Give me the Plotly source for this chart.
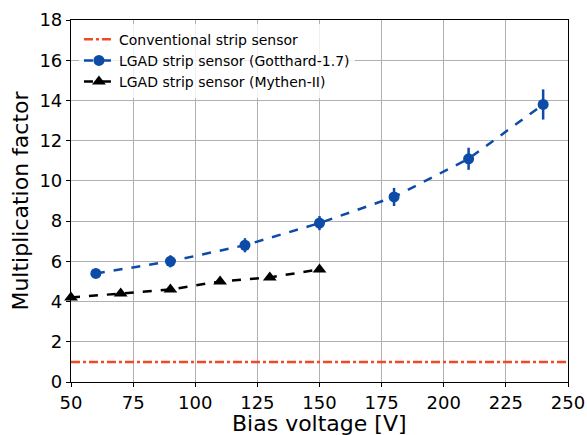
import plotly.graph_objects as go

gott_v = [60, 90, 120, 150, 180, 210, 240]
gott_m = [5.4, 6.0, 6.8, 7.9, 9.2, 11.1, 13.8]
gott_e = [0.2, 0.3, 0.35, 0.35, 0.45, 0.55, 0.75]

myth_v = [50, 70, 90, 110, 130, 150]
myth_m = [4.2, 4.4, 4.6, 5.0, 5.2, 5.6]
myth_e = [0.1, 0.1, 0.1, 0.1, 0.1, 0.1]

conv_v = [50, 250]
conv_m = [1.0, 1.0]

fig = go.Figure()
fig.add_trace(go.Scatter(
    x=conv_v, y=conv_m, mode="lines", name="Conventional strip sensor",
    line=dict(color="#f04a23", width=2.5, dash="dashdot"), cliponaxis=False))
fig.add_trace(go.Scatter(
    x=gott_v, y=gott_m, mode="lines+markers", name="LGAD strip sensor (Gotthard-1.7)",
    line=dict(color="#0d4ba8", width=2.5, dash="dash"),
    marker=dict(symbol="circle", size=11, color="#0d4ba8"),
    error_y=dict(type="data", array=gott_e, color="#0d4ba8", thickness=2.5, width=0),
    cliponaxis=False))
fig.add_trace(go.Scatter(
    x=myth_v, y=myth_m, mode="lines+markers", name="LGAD strip sensor (Mythen-II)",
    line=dict(color="black", width=2.5, dash="dash"),
    marker=dict(symbol="triangle-up", size=12, color="black"),
    error_y=dict(type="data", array=myth_e, color="black", thickness=2, width=0),
    cliponaxis=False))

fig.add_annotation(text="Bias voltage [V]", xref="paper", yref="paper",
                   x=0.5, y=-0.074, xanchor="center", yanchor="top",
                   showarrow=False, font=dict(size=22))

fig.update_layout(
    width=587, height=435,
    margin=dict(l=71, r=19, t=20, b=53),
    paper_bgcolor="white", plot_bgcolor="white",
    font=dict(family="DejaVu Sans", color="black", size=18),
    showlegend=True,
    legend=dict(x=0.016, y=0.99, xanchor="left", yanchor="top",
                bgcolor="rgba(255,255,255,0.8)", font=dict(size=14),
                tracegroupgap=0),
    xaxis=dict(range=[50, 250], tickvals=[50, 75, 100, 125, 150, 175, 200, 225, 250],
               showgrid=True, gridcolor="#b0b0b0", gridwidth=1.2,
               showline=True, linecolor="black", linewidth=1.2, mirror=True,
               ticks="outside", ticklen=4, tickcolor="black", zeroline=False,
               automargin=False),
    yaxis=dict(range=[0, 18], tickvals=list(range(0, 19, 2)),
               showgrid=True, gridcolor="#b0b0b0", gridwidth=1.2,
               showline=True, linecolor="black", linewidth=1.2, mirror=True,
               ticks="outside", ticklen=4, tickcolor="black", zeroline=False,
               automargin=False,
               title=dict(text="Multiplication factor", font=dict(size=22), standoff=4)),
)

fig.write_html("out.html")
